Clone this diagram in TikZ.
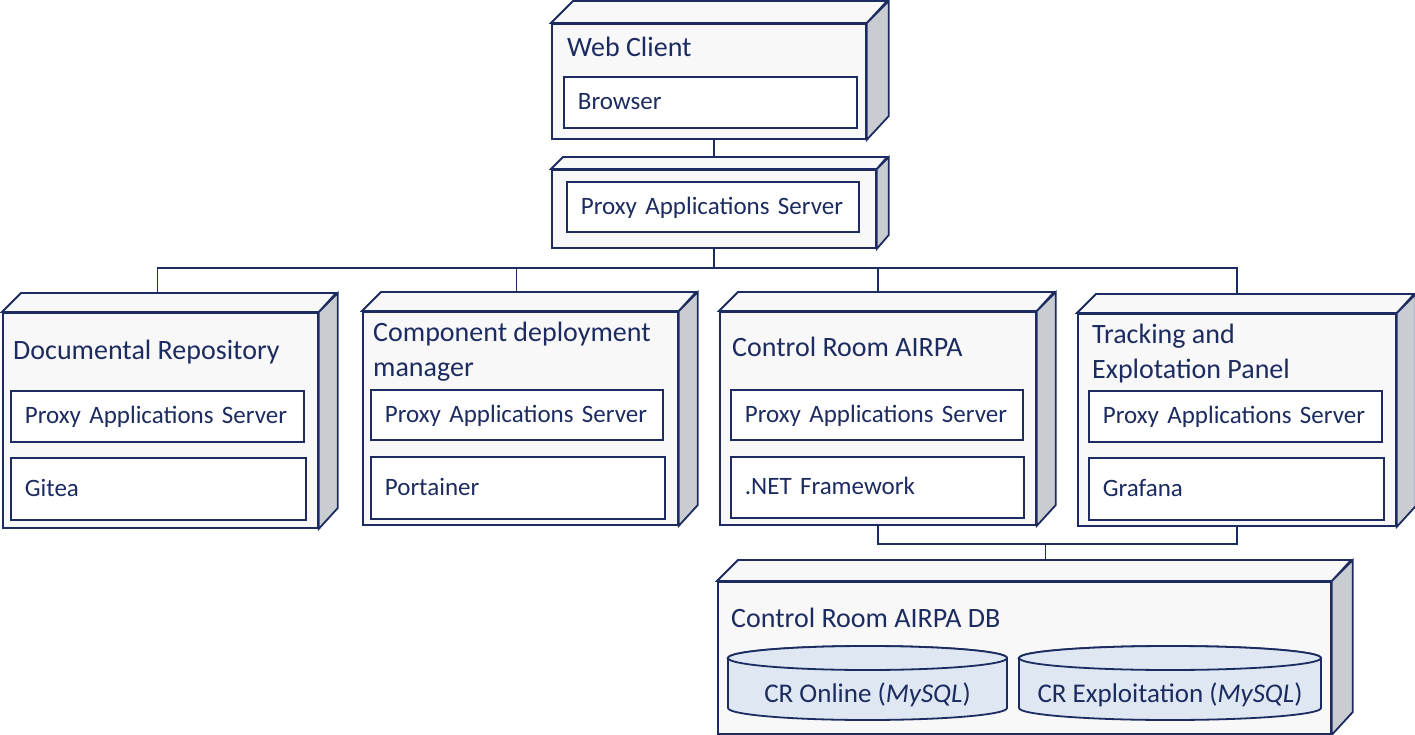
\documentclass[tikz,border=0pt]{standalone}
\usepackage{fontspec}
\setmainfont{Carlito}
\usetikzlibrary{calc, positioning, backgrounds}
\definecolor{NodeLine}{HTML}{1C2B60}
\definecolor{NodeText}{HTML}{1C2B60}
\definecolor{FrontFace}{HTML}{F8F8F9}
\definecolor{SideFace}{HTML}{C9CCD1}
\definecolor{DBFill}{HTML}{DEE7F2}
\tikzset{
    box line/.style={draw=NodeLine, line width=1.8bp},
    device/.style={box line, fill=FrontFace, rectangle, anchor=north west, inner sep=0pt},
    artifact/.style={box line, fill=white, rectangle, anchor=north west,
        inner xsep=14bp, inner ysep=0pt, align=left, text=NodeText,
        text height=15bp, text depth=0bp, font=\fontsize{25bp}{30bp}\selectfont},
    device title/.style={anchor=base west, inner sep=0pt, align=left, text=NodeText,
        font=\fontsize{28bp}{35bp}\selectfont},
    database/.style={box line, fill=DBFill},
    database text/.style={anchor=base, inner sep=0pt, text=NodeText,
        font=\fontsize{27bp}{32bp}\selectfont},
    link/.style={draw=NodeLine, line width=1.4bp}
}

% Nodo 3D: cara frontal, cara superior y cara lateral.
\newcommand{\devicebox}[6]{%
    \node[device, minimum width=#4bp, minimum height=#5bp] (#1) at (#2,#3) {};
    \filldraw[box line, fill=FrontFace] (#1.north west) -- ++(#6,-#6) -- ++(#4,0) -- (#1.north east) -- cycle;
    \filldraw[box line, fill=SideFace] (#1.north east) -- ++(#6,-#6) -- ++(0,#5) -- (#1.south east) -- cycle;
}
% Artefacto dentro de un nodo.
\newcommand{\artifactbox}[6]{%
    \pgfmathsetmacro\artw{#4-28}
    \node[artifact, text width=\artw bp, minimum height=#5bp] (#1) at (#2,#3) {#6};
}
% Base de datos (cilindro).
\newcommand{\dbcylinder}[6]{%
    \pgfmathsetmacro\cylr{(#3-#2)/2}
    \filldraw[database] (#2,#4) -- (#2,#5)
        arc[start angle=180, end angle=360, x radius=\cylr bp, y radius=12bp]
        -- (#3,#4)
        arc[start angle=0, end angle=180, x radius=\cylr bp, y radius=12bp] -- cycle;
    \draw[database] ({(#2+#3)/2},#4) ellipse [x radius=\cylr bp, y radius=12bp];
    \node[database text] (#1) at ({(#2+#3)/2},#5-6) {#6};
}

\begin{document}
\begin{tikzpicture}[x=1bp, y=-1bp]
\useasboundingbox (0,0) rectangle (1415,734);

% Cliente web y proxy.
\devicebox{web}{551}{23}{314}{115}{22}
\node[device title] (webtitle) at (567,57) {Web Client};
\artifactbox{browser}{563}{76}{293}{51}{Browser}

\devicebox{proxy}{551}{169}{324}{78}{12}
\artifactbox{proxyapp}{566}{181}{292}{50}{Proxy Applications Server}

% Nodos de aplicaciones.
\devicebox{docrepo}{2}{312}{315}{215}{19}
\node[device title] (docrepotitle) at (13,359) {Documental Repository};
\artifactbox{docrepoproxy}{10}{390}{293}{51}{Proxy Applications Server}
\artifactbox{gitea}{10}{457}{295}{62}{Gitea}

\devicebox{deploy}{362}{311}{315}{213}{19}
\node[device title] (deploytitle) at (373,376) {Component deployment\\manager};
\artifactbox{deployproxy}{370}{389}{292}{50}{Proxy Applications Server}
\artifactbox{portainer}{370}{456}{294}{62}{Portainer}

\devicebox{ctrlroom}{719}{311}{316}{213}{19}
\node[device title] (ctrlroomtitle) at (732,356) {Control Room AIRPA};
\artifactbox{ctrlroomproxy}{730}{389}{292}{50}{Proxy Applications Server}
\artifactbox{dotnet}{730}{456}{293}{61}{.NET Framework}

\devicebox{tracking}{1077}{313}{318}{212}{19}
\node[device title] (trackingtitle) at (1092,378) {Tracking and\\Explotation Panel};
\artifactbox{trackingproxy}{1088}{390}{293}{51}{Proxy Applications Server}
\artifactbox{grafana}{1088}{457}{295}{62}{Grafana}

% Base de datos.
\devicebox{ctrldb}{717}{581}{613}{152}{21}
\node[device title] (ctrldbtitle) at (731,627) {Control Room AIRPA DB};
\dbcylinder{cronline}{728}{1007}{658}{708}{CR Online (\textit{MySQL})}
\dbcylinder{crexploit}{1019}{1321}{658}{708}{CR Exploitation (\textit{MySQL})}

% Conexiones, detrás de los nodos.
\begin{scope}[on background layer]
\draw[link] (proxy.north |- web.south) -- (proxy.north);
\draw[link] (proxy.south) -- ++(0,19) coordinate (bus);
\draw[link] ([xshift=-3bp]docrepo.north) |- (bus) -| (tracking.north);
\draw[link] ([xshift=-4bp]deploy.north) -- ([xshift=-4bp]deploy.north |- bus);
\draw[link] (ctrlroom.north) -- (ctrlroom.north |- bus);
\draw[link] (ctrlroom.south) -- ++(0,18) coordinate (dbbus) -| (tracking.south);
\draw[link] ([xshift=21bp]ctrldb.north) -- ([xshift=21bp]ctrldb.north |- dbbus);
\end{scope}

\end{tikzpicture}
\end{document}
